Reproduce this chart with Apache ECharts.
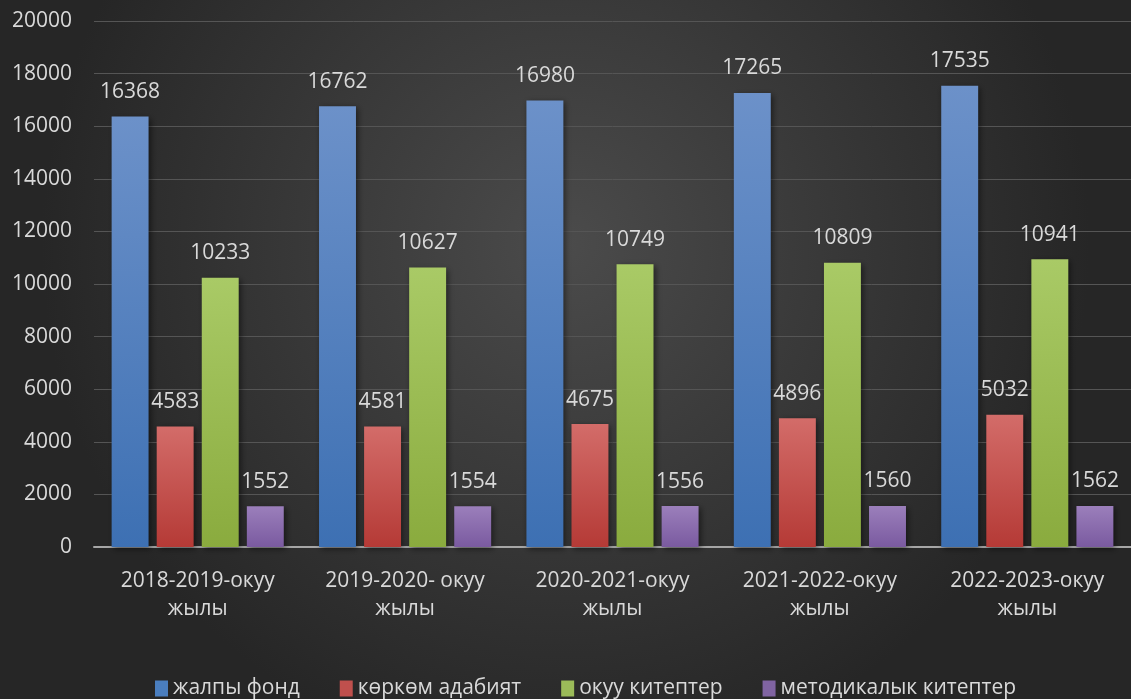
<!DOCTYPE html>
<html><head><meta charset="utf-8">
<script src="https://cdn.jsdelivr.net/npm/echarts@6/dist/echarts.min.js"></script>
<style>html,body{margin:0;padding:0;}#c{width:1131px;height:699px;}</style>
</head><body><div id="c"></div>
<script>
const categories = ['2018-2019-окуу\nжылы', '2019-2020- окуу\nжылы', '2020-2021-окуу\nжылы', '2021-2022-окуу\nжылы', '2022-2023-окуу\nжылы'];
const seriesNames = ['жалпы фонд', 'көркөм адабият', 'окуу китептер', 'методикалык китептер'];
const fund = [16368, 16762, 16980, 17265, 17535];
const fiction = [4583, 4581, 4675, 4896, 5032];
const textbooks = [10233, 10627, 10749, 10809, 10941];
const methodical = [1552, 1554, 1556, 1560, 1562];
const yTicks = {min: 0, max: 20000, interval: 2000};

const colors = [['#6c91c9', '#3d70b3'], ['#d36c69', '#b53a36'], ['#a9ca66', '#8aab3e'], ['#9b7fbb', '#7a5aa0']];
const legendColors = ['#4a7ebf', '#c0504d', '#9bbb59', '#8064a2'];
const datas = [fund, fiction, textbooks, methodical];

const chart = echarts.init(document.getElementById('c'));
chart.setOption({
  backgroundColor: {
    type: 'radial', x: 0.5, y: 0.35, r: 0.75,
    colorStops: [{offset: 0, color: '#4b4b4b'}, {offset: 1, color: '#262626'}]
  },
  textStyle: {fontFamily: 'Open Sans, sans-serif'},
  grid: {left: 94, right: -3, top: 21, bottom: 152},
  legend: {
    top: 673, left: 150, itemWidth: 13, itemHeight: 16, itemGap: 40, itemTextGap: 4,
    icon: 'rect',
    textStyle: {color: '#d9d9d9', fontSize: 21, fontFamily: 'Open Sans, sans-serif'},
    data: seriesNames.map((n, i) => ({name: n, itemStyle: {color: legendColors[i]}}))
  },
  xAxis: {
    type: 'category', data: categories,
    axisLine: {lineStyle: {color: '#a6a6a6', width: 2}},
    axisTick: {show: false},
    axisLabel: {color: '#d9d9d9', fontSize: 21, lineHeight: 28, margin: 20, interval: 0}
  },
  yAxis: {
    type: 'value', min: yTicks.min, max: yTicks.max, interval: yTicks.interval,
    axisLine: {show: false}, axisTick: {show: false},
    axisLabel: {color: '#d9d9d9', fontSize: 21, margin: 22, formatter: v => String(v)},
    splitLine: {lineStyle: {color: '#555555', width: 1}}
  },
  series: datas.map((d, i) => ({
    name: seriesNames[i], type: 'bar', data: d,
    barGap: '22%', barCategoryGap: '17%',
    itemStyle: {
      color: {type: 'linear', x: 0, y: 0, x2: 0, y2: 1,
        colorStops: [{offset: 0, color: colors[i][0]}, {offset: 1, color: colors[i][1]}]},
      shadowColor: 'rgba(0,0,0,0.5)', shadowBlur: 6, shadowOffsetX: 2, shadowOffsetY: 2
    },
    label: {show: true, position: 'top', distance: 14, color: '#d9d9d9', fontSize: 21}
  }))
});
</script></body></html>
